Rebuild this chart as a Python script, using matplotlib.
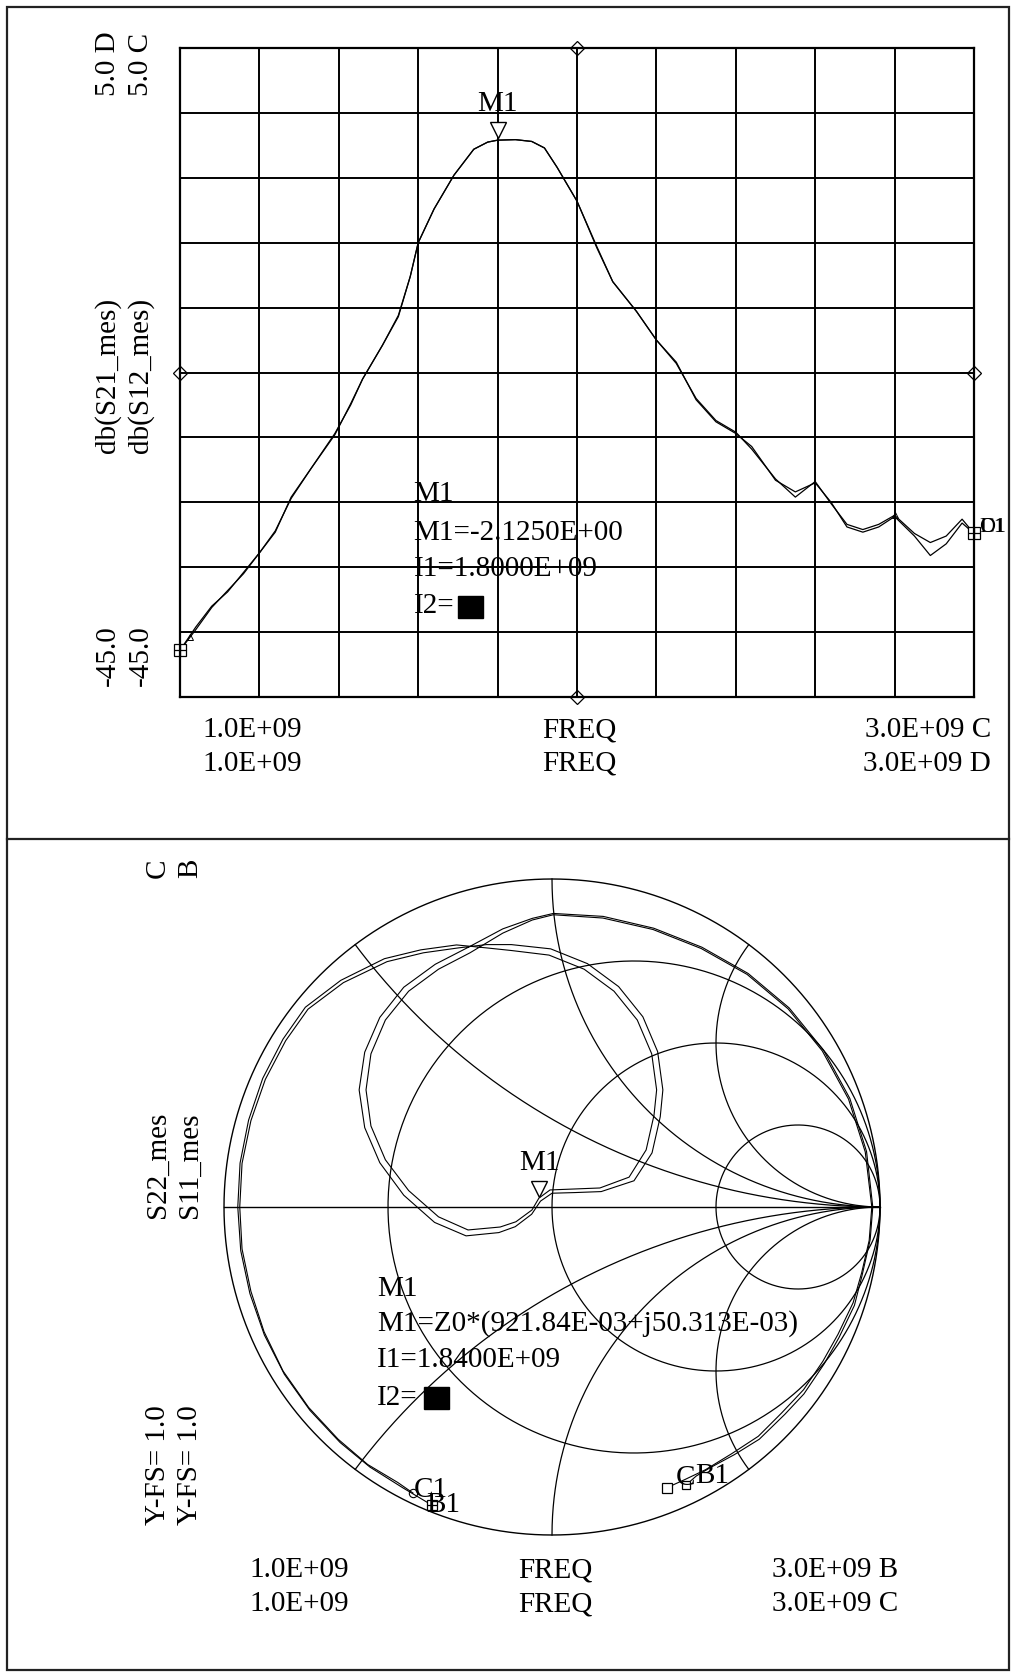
import numpy as np
import matplotlib
matplotlib.use("Agg")
import matplotlib.pyplot as plt
import matplotlib.transforms as mtrans
from matplotlib.patches import Rectangle
from matplotlib.lines import Line2D

W, H = 1012, 1673
FONT = 'Liberation Serif'
FS = 21

# ---------------- data: top plot (dB vs GHz) ----------------
freq_ghz = [1.00, 1.04, 1.08, 1.12, 1.16, 1.20, 1.24, 1.28, 1.33, 1.39, 1.43, 1.46,
            1.51, 1.55, 1.58, 1.60, 1.64, 1.69, 1.74, 1.775, 1.80, 1.845, 1.886, 1.918,
            1.95, 2.00, 2.05, 2.09, 2.15, 2.20, 2.25, 2.30, 2.35, 2.40, 2.44, 2.50,
            2.55, 2.60, 2.64, 2.68, 2.72, 2.76, 2.80, 2.85, 2.89, 2.93, 2.97, 3.00]
s21_db = [-41.4, -39.8, -38.1, -36.8, -35.5, -33.9, -32.3, -29.6, -27.4, -24.7, -22.5, -20.5,
          -17.9, -15.6, -12.6, -10.0, -7.4, -4.8, -2.8, -2.25, -2.1, -2.06, -2.2, -2.7,
          -4.2, -6.8, -10.4, -13.0, -15.3, -17.5, -19.2, -22.1, -23.8, -24.7, -25.7, -28.3,
          -29.2, -28.5, -30.0, -31.9, -32.3, -31.9, -31.1, -32.6, -34.1, -33.2, -31.6, -32.4]
s12_db = [-41.4, -39.6, -38.0, -36.9, -35.4, -33.9, -32.2, -29.7, -27.4, -24.8, -22.4, -20.5,
          -17.9, -15.7, -12.6, -10.0, -7.4, -4.8, -2.8, -2.25, -2.1, -2.06, -2.2, -2.7,
          -4.2, -6.8, -10.3, -13.0, -15.3, -17.5, -19.3, -22.0, -23.7, -24.6, -25.9, -28.2,
          -29.6, -28.4, -30.1, -31.7, -32.1, -31.7, -31.0, -32.4, -33.1, -32.6, -31.3, -32.4]
m1_freq, m1_db = 1.80, -2.125
x_tick_labels = ["1.0E+09", "FREQ", "3.0E+09"]

# ---------------- data: Smith chart (reflection coefficient, 1 -> 3 GHz) ----------------
s22_re = [-0.366, -0.455, -0.555, -0.646, -0.738, -0.816, -0.877, -0.921, -0.949, -0.958,
          -0.951, -0.925, -0.882, -0.820, -0.752, -0.644, -0.511, -0.400, -0.291, -0.200,
          -0.124, -0.009, 0.098, 0.189, 0.260, 0.304, 0.319, 0.311, 0.287, 0.235, 0.146, 0.070,
          -0.006, -0.040, -0.061, -0.110, -0.158, -0.256, -0.346, -0.437, -0.508, -0.552, -0.567,
          -0.552, -0.508, -0.437, -0.346, -0.250,
          -0.150, -0.060, 0.004, 0.155, 0.308, 0.455, 0.595, 0.720, 0.824, 0.904, 0.955, 0.975,
          0.967, 0.944, 0.918, 0.872, 0.826, 0.767, 0.700, 0.629, 0.548, 0.468, 0.405, 0.350]
s22_im = [-0.909, -0.856, -0.793, -0.718, -0.620, -0.510, -0.390, -0.264, -0.133, 0.000,
          0.134, 0.265, 0.392, 0.512, 0.609, 0.691, 0.757, 0.784, 0.799, 0.790,
          0.782, 0.768, 0.725, 0.658, 0.570, 0.467, 0.357, 0.280, 0.174, 0.091, 0.058, 0.055,
          0.052, 0.027, -0.009, -0.045, -0.061, -0.070, -0.030, 0.050, 0.144, 0.247, 0.357,
          0.467, 0.570, 0.658, 0.725, 0.775,
          0.835, 0.875, 0.891, 0.881, 0.846, 0.788, 0.709, 0.604, 0.476, 0.329, 0.168, 0.000,
          -0.102, -0.201, -0.292, -0.388, -0.470, -0.557, -0.628, -0.699, -0.752, -0.801, -0.831, -0.856]
s11_re = [-0.424, -0.470, -0.562, -0.652, -0.742, -0.820, -0.878, -0.918, -0.945, -0.952,
          -0.945, -0.918, -0.874, -0.812, -0.744, -0.636, -0.503, -0.392, -0.285, -0.200,
          -0.124, -0.004, 0.108, 0.203, 0.277, 0.322, 0.338, 0.330, 0.305, 0.250, 0.150, 0.070,
          0.000, -0.035, -0.062, -0.112, -0.162, -0.262, -0.358, -0.452, -0.525, -0.571, -0.588,
          -0.571, -0.525, -0.452, -0.356, -0.255,
          -0.150, -0.060, 0.004, 0.156, 0.310, 0.457, 0.598, 0.723, 0.828, 0.908, 0.959, 0.978,
          0.970, 0.945, 0.922, 0.875, 0.830, 0.768, 0.710, 0.632, 0.556, 0.482, 0.440, 0.408]
s11_im = [-0.872, -0.840, -0.785, -0.708, -0.611, -0.500, -0.380, -0.257, -0.128, 0.000,
          0.133, 0.263, 0.389, 0.507, 0.603, 0.684, 0.748, 0.775, 0.790, 0.800,
          0.800, 0.787, 0.742, 0.672, 0.580, 0.474, 0.357, 0.275, 0.165, 0.080, 0.047, 0.044,
          0.042, 0.018, -0.022, -0.060, -0.078, -0.088, -0.047, 0.036, 0.135, 0.242, 0.357,
          0.472, 0.578, 0.670, 0.740, 0.792,
          0.848, 0.880, 0.895, 0.886, 0.850, 0.792, 0.712, 0.607, 0.478, 0.331, 0.169, 0.000,
          -0.100, -0.210, -0.300, -0.398, -0.478, -0.570, -0.632, -0.708, -0.755, -0.795, -0.820, -0.848]
r_circles = [1/3, 1.0, 3.0]
x_arcs = [0.5, 1.0, 2.0, -0.5, -1.0, -2.0]
m1_gamma = (-0.040, 0.027)

fig = plt.figure(figsize=(W / 100, H / 100), dpi=100)
fig.patch.set_facecolor('white')


def fx(x):
    return x / W


def fy(y):
    return 1 - y / H


def ftext(x, y, s, rot=0, ha='left', va='center', size=FS):
    fig.text(fx(x), fy(y), s, rotation=rot, ha=ha, va=va, fontsize=size,
             family=FONT, color='black')


def lifted(axis, dy_px):
    return axis.transData + mtrans.ScaledTranslation(0, dy_px / 100, fig.dpi_scale_trans)


# outer frame and divider
fig.add_artist(Rectangle((fx(7), fy(1670)), fx(1009) - fx(7), fy(7) - fy(1670),
                         transform=fig.transFigure, fill=False, lw=1.6, ec='#222222'))
fig.add_artist(Line2D([fx(7), fx(1009)], [fy(839), fy(839)], transform=fig.transFigure,
                      lw=1.6, color='#222222'))

# ---------------- top plot ----------------
L, R, T, B = 180, 974, 48, 697
ax = fig.add_axes([fx(L), fy(B), (R - L) / W, (B - T) / H])
ax.set_xlim(1.0, 3.0)
ax.set_ylim(-45, 5)
ax.set_xticks(np.linspace(1.0, 3.0, 11))
ax.set_yticks(np.linspace(-45, 5, 11))
ax.grid(True, color='black', lw=1.4)
ax.tick_params(length=0, labelbottom=False, labelleft=False)
for sp in ax.spines.values():
    sp.set_linewidth(1.6)
ax.plot(freq_ghz, s21_db, color='black', lw=0.9)
ax.plot(freq_ghz, s12_db, color='black', lw=0.9)
for (xm, ym) in [(2.0, 5), (2.0, -45), (1.0, -20), (3.0, -20)]:
    ax.plot([xm], [ym], marker='D', ms=7, mfc='none', mec='black', mew=0.9, clip_on=False)
for xe, ye in [(freq_ghz[0], s21_db[0]), (freq_ghz[-1], s21_db[-1])]:
    ax.plot([xe], [ye], marker='s', ms=8, mfc='white', mec='black', mew=0.9, clip_on=False)
    ax.plot([xe], [ye], marker='+', ms=8, mec='black', mew=0.9, clip_on=False)
ax.plot([1.025, 2.80], [-40.4, -31.0], ls='none', marker='^', ms=5, mfc='none',
        mec='black', mew=0.7)
ax.plot([m1_freq], [m1_db], marker='v', ms=12, mfc='white', mec='black', mew=1.0,
        transform=lifted(ax, 10), clip_on=False)
ftext(497, 104, 'M1', ha='center')
ftext(979, 527, 'C1', size=16)
ftext(979, 527, 'D1', size=16)

ftext(413, 494, 'M1')
ftext(413, 533, 'M1=-2.1250E+00')
ftext(414, 569, 'I1=1.8000E+09')
ftext(414, 606, 'I2=')
fig.add_artist(Rectangle((fx(458), fy(618)), (483 - 458) / W, (618 - 596) / H,
                         transform=fig.transFigure, color='black'))

ftext(108, 64, '5.0 D', rot=90, ha='center')
ftext(141, 64, '5.0 C', rot=90, ha='center')
ftext(108, 375, 'db(S21_mes)', rot=90, ha='center')
ftext(141, 375, 'db(S12_mes)', rot=90, ha='center')
ftext(108, 656, '-45.0', rot=90, ha='center')
ftext(141, 656, '-45.0', rot=90, ha='center')
for yy, tag in [(730, 'C'), (764, 'D')]:
    ftext(202, yy, x_tick_labels[0])
    ftext(579, yy, x_tick_labels[1], ha='center')
    ftext(991, yy, x_tick_labels[2] + ' ' + tag, ha='right')

# ---------------- Smith chart ----------------
CX, CY, RAD = 552, 1207, 328
axs = fig.add_axes([fx(CX - RAD), fy(CY + RAD), 2 * RAD / W, 2 * RAD / H])
axs.set_xlim(-1, 1)
axs.set_ylim(-1, 1)
axs.axis('off')
th = np.linspace(0, 2 * np.pi, 721)
axs.plot(np.cos(th), np.sin(th), color='black', lw=1.0, clip_on=False)
axs.plot([-1, 1], [0, 0], color='black', lw=1.0, clip_on=False)
xx = np.sinh(np.linspace(-9, 9, 4001)) * 3
for r in r_circles:
    z = r + 1j * xx
    g = (z - 1) / (z + 1)
    axs.plot(g.real, g.imag, color='black', lw=0.9, clip_on=False)
rr = np.concatenate([np.linspace(0, 5, 500), np.geomspace(5, 5000, 500)])
for xv in x_arcs:
    z = rr + 1j * xv
    g = (z - 1) / (z + 1)
    axs.plot(g.real, g.imag, color='black', lw=0.9, clip_on=False)
axs.plot(s22_re, s22_im, color='black', lw=0.8, clip_on=False)
axs.plot(s11_re, s11_im, color='black', lw=0.8, clip_on=False)
axs.plot([s22_re[0]], [s22_im[0]], marker='s', ms=7, mfc='white', mec='black', mew=0.9)
axs.plot([s22_re[0]], [s22_im[0]], marker='+', ms=7, mec='black', mew=0.9)
axs.plot([s11_re[0]], [s11_im[0]], marker='o', ms=6, mfc='none', mec='black', mew=0.8)
axs.plot([s22_re[-1]], [s22_im[-1]], marker='s', ms=7, mfc='white', mec='black', mew=0.9)
axs.plot([s11_re[-1]], [s11_im[-1]], marker='s', ms=6, mfc='white', mec='black', mew=0.9)
axs.plot([m1_gamma[0]], [m1_gamma[1]], marker='v', ms=12, mfc='white', mec='black', mew=1.0,
         transform=lifted(axs, 9))
ftext(539, 1163, 'M1', ha='center')
ftext(414, 1490, 'C1')
ftext(426, 1505, 'B1')
ftext(676, 1478, 'C')
ftext(695, 1476, 'B1')

ftext(377, 1289, 'M1')
ftext(377, 1324, 'M1=Z0*(921.84E-03+j50.313E-03)')
ftext(377, 1360, 'I1=1.8400E+09')
ftext(377, 1398, 'I2=')
fig.add_artist(Rectangle((fx(424), fy(1409)), (449 - 424) / W, (1409 - 1387) / H,
                         transform=fig.transFigure, color='black'))

ftext(158, 868, 'C', rot=90, ha='center')
ftext(190, 868, 'B', rot=90, ha='center')
ftext(158, 1165, 'S22_mes', rot=90, ha='center')
ftext(190, 1165, 'S11_mes', rot=90, ha='center')
ftext(158, 1465, 'Y-FS= 1.0', rot=90, ha='center')
ftext(190, 1465, 'Y-FS= 1.0', rot=90, ha='center')
for yy, tag in [(1570, 'B'), (1604, 'C')]:
    ftext(249, yy, x_tick_labels[0])
    ftext(555, yy, x_tick_labels[1], ha='center')
    ftext(898, yy, x_tick_labels[2] + ' ' + tag, ha='right')

fig.savefig('out.png', dpi=100, facecolor='white')
